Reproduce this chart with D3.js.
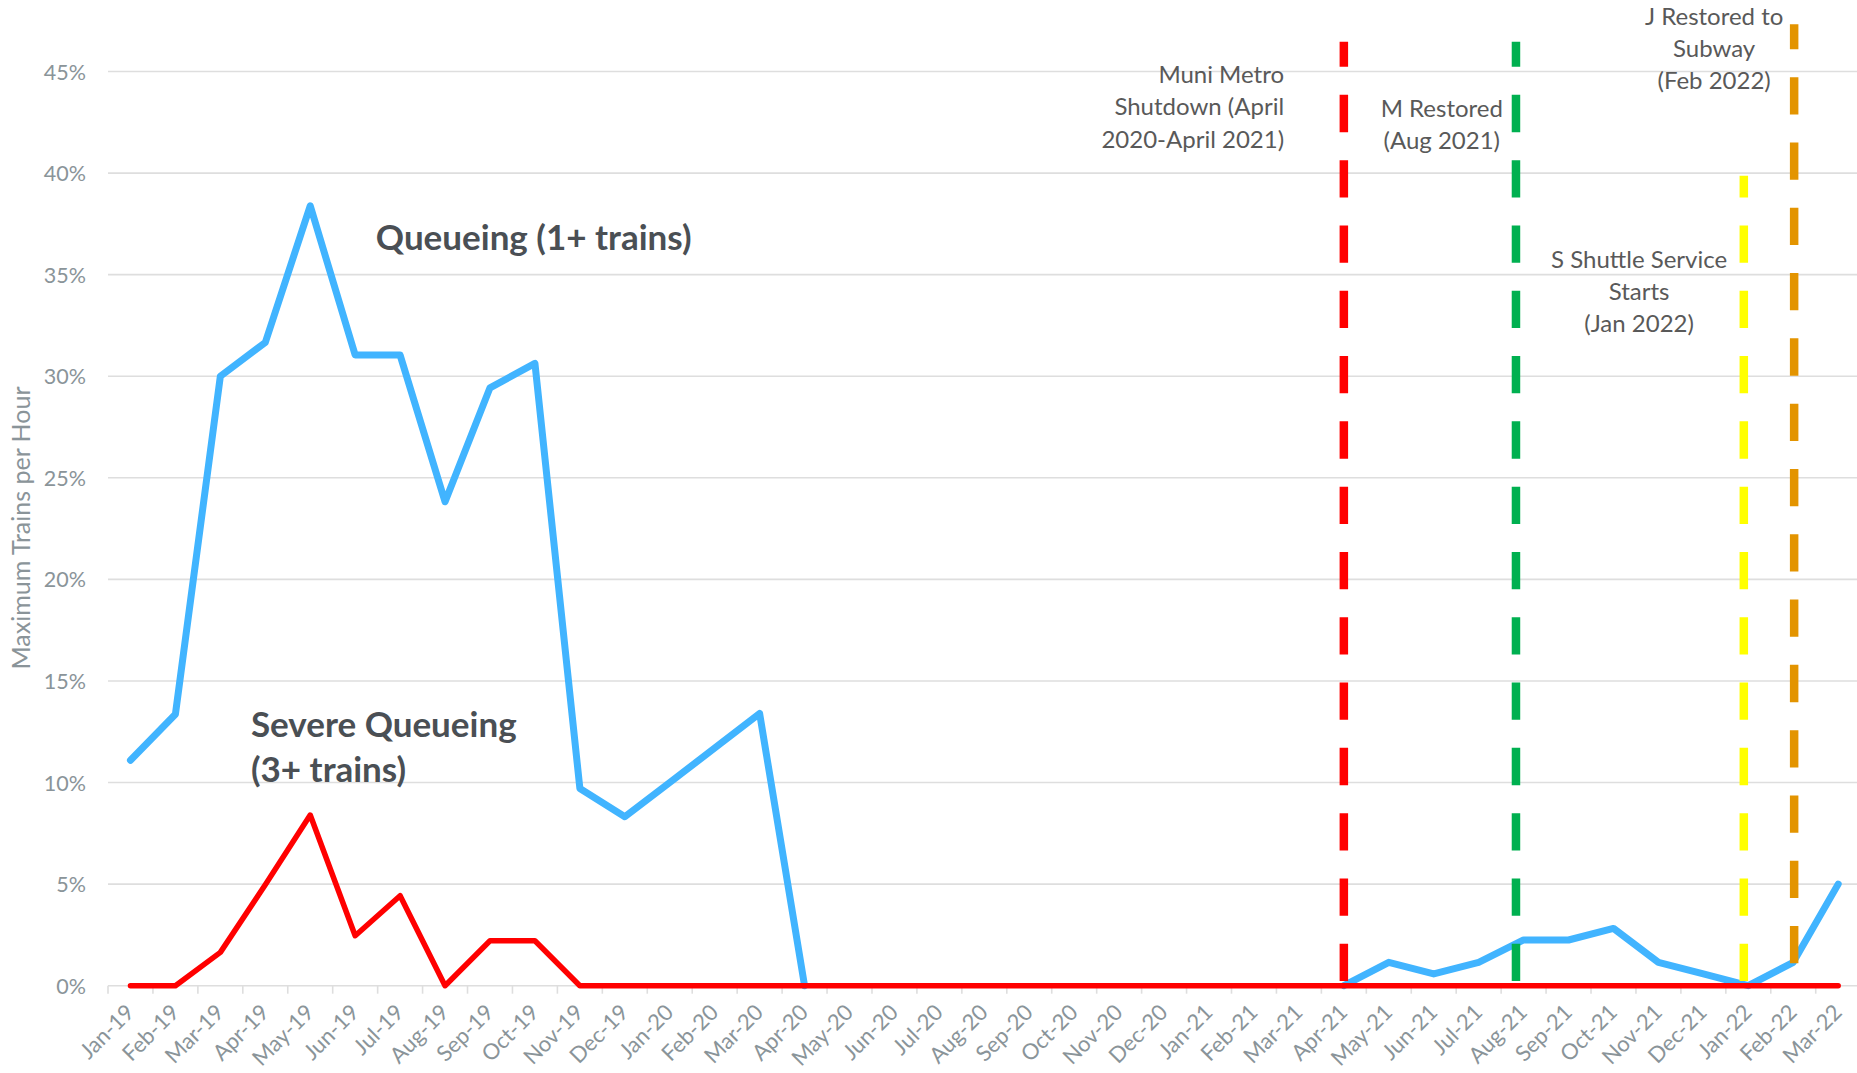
<!DOCTYPE html>
<html>
<head>
<meta charset="utf-8">
<script src="https://cdn.jsdelivr.net/npm/d3@7"></script>
<style>
    body { margin: 0; background: #ffffff; }
    svg  { display: block; font-family: Lato, "Open Sans", sans-serif; }
</style>
</head>
<body>
<div id="chart"></div>
<script>
// month categories on the x axis
var months = ["Jan-19","Feb-19","Mar-19","Apr-19","May-19","Jun-19","Jul-19","Aug-19","Sep-19","Oct-19","Nov-19","Dec-19",
              "Jan-20","Feb-20","Mar-20","Apr-20","May-20","Jun-20","Jul-20","Aug-20","Sep-20","Oct-20","Nov-20","Dec-20",
              "Jan-21","Feb-21","Mar-21","Apr-21","May-21","Jun-21","Jul-21","Aug-21","Sep-21","Oct-21","Nov-21","Dec-21",
              "Jan-22","Feb-22","Mar-22"];

// % of hours with queueing (1+ trains) - no data during the shutdown
var queueing = [11.1, 13.36, 30.0, 31.66, 38.39, 31.04, 31.04, 23.82, 29.43, 30.63, 9.71, 8.32,
                10.0, 11.7, 13.4, 0, null, null, null, null, null, null, null, null,
                null, null, null, 0, 1.15, 0.58, 1.15, 2.25, 2.25, 2.82, 1.15, 0.58,
                0, 1.15, 5.0];

// % of hours with severe queueing (3+ trains)
var severeQueueing = [0, 0, 1.64, 4.97, 8.4, 2.46, 4.43, 0, 2.21, 2.21, 0, 0,
                      0, 0, 0, 0, 0, 0, 0, 0, 0, 0, 0, 0,
                      0, 0, 0, 0, 0, 0, 0, 0, 0, 0, 0, 0,
                      0, 0, 0];

var yTicks = [0, 5, 10, 15, 20, 25, 30, 35, 40, 45];

// service events: position in month index, bottom and top of the marker line (%)
var eventMonth = [27, 30.83, 35.9, 37.02];
var eventFrom  = [0.23, 0.23, 0.23, 1.1];
var eventTo    = [46.46, 46.46, 39.87, 47.33];
var eventColor = ["#ff0000", "#00b050", "#ffff00", "#e39400"];

var width = 1857, height = 1073;
var plotLeft = 108, bandW = 44.94;
var yZero = 985.7, yTop = 71.5;

var svg = d3.select("#chart").append("svg")
    .attr("width", width)
    .attr("height", height);

var x = d3.scaleBand()
    .domain(months)
    .range([plotLeft, plotLeft + months.length * bandW])
    .padding(0);

// same axis, but continuous in month index so markers can sit between months
var xi = d3.scaleLinear()
    .domain([-0.5, months.length - 0.5])
    .range(x.range());

var y = d3.scaleLinear()
    .domain([0, 45])
    .range([yZero, yTop]);

// gridlines
svg.append("g")
    .selectAll("line")
    .data(yTicks)
    .enter().append("line")
    .attr("x1", plotLeft)
    .attr("x2", x.range()[1])
    .attr("y1", function(d){ return y(d); })
    .attr("y2", function(d){ return y(d); })
    .attr("stroke", "#dedede")
    .attr("stroke-width", 1.6);

// y axis labels
var yAxis = svg.append("g")
    .attr("transform", "translate(" + (plotLeft - 22) + ",0)")
    .call(d3.axisLeft(y).tickValues(yTicks).tickSize(0).tickFormat(function(d){ return d + "%"; }));
yAxis.select(".domain").remove();
yAxis.selectAll("text")
    .attr("x", 0)
    .attr("dy", "0.35em")
    .style("font-family", "Lato")
    .style("font-size", "21.5px")
    .attr("fill", "#8a9499");

svg.append("text")
    .attr("transform", "translate(30," + 528 + ") rotate(-90)")
    .attr("text-anchor", "middle")
    .style("font-size", "25px")
    .attr("fill", "#8a9499")
    .text("Maximum Trains per Hour");

// x axis: tick marks sit on the boundaries between months
var boundaries = months.map(function(m){ return x(m); });
boundaries.push(x.range()[1]);
svg.append("g")
    .selectAll("line")
    .data(boundaries)
    .enter().append("line")
    .attr("x1", function(d){ return d; })
    .attr("x2", function(d){ return d; })
    .attr("y1", yZero)
    .attr("y2", yZero + 8)
    .attr("stroke", "#dedede")
    .attr("stroke-width", 1.6);

var xAxis = svg.append("g")
    .attr("transform", "translate(0," + yZero + ")")
    .call(d3.axisBottom(x).tickSize(0));
xAxis.select(".domain").remove();
xAxis.selectAll("text")
    .attr("x", 0)
    .attr("y", 0)
    .attr("dy", 0)
    .attr("text-anchor", "end")
    .attr("transform", "translate(5,28) rotate(-45)")
    .style("font-family", "Lato")
    .style("font-size", "22px")
    .attr("fill", "#8a9499");

var line = d3.line()
    .defined(function(d){ return d !== null; })
    .x(function(d, i){ return x(months[i]) + x.bandwidth() / 2; })
    .y(function(d){ return y(d); });

svg.append("path")
    .datum(queueing)
    .attr("d", line)
    .attr("fill", "none")
    .attr("stroke", "#41b4ff")
    .attr("stroke-width", 7)
    .attr("stroke-linejoin", "round")
    .attr("stroke-linecap", "round");

svg.append("path")
    .datum(severeQueueing)
    .attr("d", line)
    .attr("fill", "none")
    .attr("stroke", "#ff0000")
    .attr("stroke-width", 5.5)
    .attr("stroke-linejoin", "round")
    .attr("stroke-linecap", "round");

// dashed event markers, drawn bottom-up so the dash pattern starts at the axis
svg.append("g")
    .selectAll("line")
    .data(eventMonth)
    .enter().append("line")
    .attr("x1", function(d){ return xi(d); })
    .attr("x2", function(d){ return xi(d); })
    .attr("y1", function(d, i){ return y(eventFrom[i]); })
    .attr("y2", function(d, i){ return y(eventTo[i]); })
    .attr("stroke", function(d, i){ return eventColor[i]; })
    .attr("stroke-width", 8.5)
    .attr("stroke-dasharray", "37.3 28");

// annotations
function addLabel(lines, mx, v, anchor, opts){
    var t = svg.append("text")
        .attr("text-anchor", anchor)
        .attr("fill", opts.color)
        .style("font-size", opts.size + "px")
        .style("font-weight", opts.weight || "normal");
    lines.forEach(function(s, k){
        t.append("tspan")
            .attr("x", xi(mx))
            .attr("y", y(v) + k * opts.lineH)
            .text(s);
    });
}

var note = {color: "#595959", size: 24, lineH: 32.2};
addLabel(["Muni Metro", "Shutdown (April", "2020-April 2021)"], 25.67, 44.42, "end", note);
addLabel(["M Restored", "(Aug 2021)"], 29.18, 42.77, "middle", note);
addLabel(["J Restored to", "Subway", "(Feb 2022)"], 35.24, 47.29, "middle", note);
addLabel(["S Shuttle Service", "Starts", "(Jan 2022)"], 33.57, 35.34, "middle", note);

var big = {color: "#4a4f54", size: 35, weight: "bold", lineH: 45.5};
addLabel(["Queueing (1+ trains)"], 5.46, 36.21, "start", big);
addLabel(["Severe Queueing", "(3+ trains)"], 2.68, 12.26, "start", big);
</script>
</body>
</html>
